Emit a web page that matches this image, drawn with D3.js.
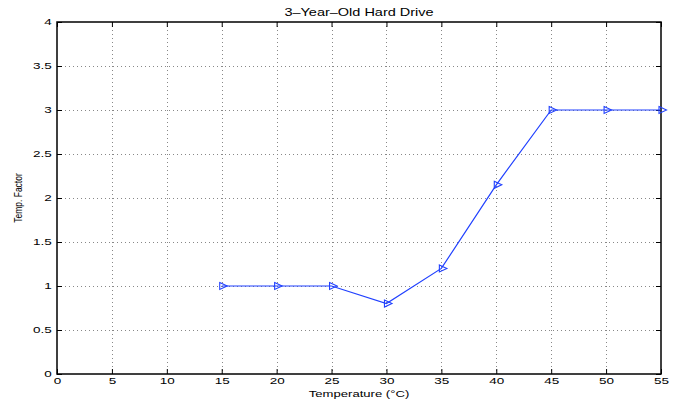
<!DOCTYPE html>
<html>
<head>
<meta charset="utf-8">
<script src="https://cdn.jsdelivr.net/npm/d3@7"></script>
<style>
  body { margin: 0; background: #fff; }
  svg { font-family: "Liberation Sans", Arial, sans-serif; }
</style>
</head>
<body>
<div id="chart"></div>
<script>
const temps = [15, 20, 25, 30, 35, 40, 45, 50, 55];
const factors = [1, 1, 1, 0.8, 1.2, 2.15, 3, 3, 3];
const xTicks = [0, 5, 10, 15, 20, 25, 30, 35, 40, 45, 50, 55];
const yTicks = [0, 0.5, 1, 1.5, 2, 2.5, 3, 3.5, 4];

const width = 681, height = 401;
const margin = { left: 57, right: 20, top: 22, bottom: 27 };
const stretch = 1.38;     // text in the picture is widened horizontally
const tickStretch = 1.5;

const svg = d3.select('#chart').append('svg')
  .attr('width', width)
  .attr('height', height);

const x = d3.scaleLinear().domain([0, 55]).range([margin.left, width - margin.right]);
const y = d3.scaleLinear().domain([0, 4]).range([height - margin.bottom, margin.top]);

// grid
const grid = svg.append('g')
  .attr('stroke', '#888')
  .attr('stroke-width', 1)
  .attr('stroke-dasharray', '1,3');

grid.selectAll('line.vx')
  .data(xTicks.slice(1, -1))
  .join('line')
  .attr('x1', d => Math.round(x(d)) + 0.5)
  .attr('x2', d => Math.round(x(d)) + 0.5)
  .attr('y1', y(4))
  .attr('y2', y(0));

grid.selectAll('line.hy')
  .data(yTicks.slice(1, -1))
  .join('line')
  .attr('y1', d => Math.round(y(d)) + 0.5)
  .attr('y2', d => Math.round(y(d)) + 0.5)
  .attr('x1', x(0))
  .attr('x2', x(55));

// axes (ticks inside, mirrored)
const tickLen = 5;
const styleAxis = g => {
  g.select('.domain').remove();
  g.selectAll('.tick line').attr('stroke', '#000');
  g.selectAll('.tick text')
    .attr('fill', '#000')
    .style('font-size', '9px')
    .attr('transform', `scale(${tickStretch},1)`);
};

svg.append('g')
  .attr('transform', `translate(0,${y(0)})`)
  .call(d3.axisBottom(x).tickValues(xTicks).tickSizeInner(-tickLen).tickSizeOuter(0).tickPadding(4))
  .call(styleAxis);

svg.append('g')
  .attr('transform', `translate(0,${y(4)})`)
  .call(d3.axisTop(x).tickValues(xTicks).tickSizeInner(-tickLen).tickSizeOuter(0).tickFormat(''))
  .call(styleAxis);

svg.append('g')
  .attr('transform', `translate(${x(0)},0)`)
  .call(d3.axisLeft(y).tickValues(yTicks).tickSizeInner(-tickLen).tickSizeOuter(0).tickPadding(3.5).tickFormat(d3.format('')))
  .call(styleAxis);

svg.append('g')
  .attr('transform', `translate(${x(55)},0)`)
  .call(d3.axisRight(y).tickValues(yTicks).tickSizeInner(-tickLen).tickSizeOuter(0).tickFormat(''))
  .call(styleAxis);

// frame
svg.append('rect')
  .attr('x', x(0))
  .attr('y', y(4))
  .attr('width', x(55) - x(0))
  .attr('height', y(0) - y(4))
  .attr('fill', 'none')
  .attr('stroke', '#000')
  .attr('stroke-width', 1.5);

// line
const pts = temps.map((t, i) => [t, factors[i]]);
svg.append('path')
  .datum(pts)
  .attr('fill', 'none')
  .attr('stroke', '#2040ff')
  .attr('stroke-width', 1.2)
  .attr('d', d3.line().x(d => x(d[0])).y(d => y(d[1])));

// right-pointing triangle markers
svg.append('g')
  .selectAll('path')
  .data(pts)
  .join('path')
  .attr('transform', d => `translate(${x(d[0])},${y(d[1])})`)
  .attr('d', 'M-2,-3.5L5.5,0L-2,3.5Z')
  .attr('fill', 'none')
  .attr('stroke', '#2040ff')
  .attr('stroke-width', 1.1);

// labels
const cx = (x(0) + x(55)) / 2;
svg.append('text')
  .attr('transform', `translate(${cx},16) scale(${stretch},1)`)
  .attr('text-anchor', 'middle')
  .style('font-size', '10.5px')
  .text('3\u2013Year\u2013Old Hard Drive');

svg.append('text')
  .attr('transform', `translate(${cx},397) scale(${stretch},1)`)
  .attr('text-anchor', 'middle')
  .style('font-size', '9.5px')
  .text('Temperature (\u00B0C)');

svg.append('text')
  .attr('transform', `translate(22,${(y(0) + y(4)) / 2}) scale(${stretch},1) rotate(-90)`)
  .attr('text-anchor', 'middle')
  .style('font-size', '8.5px')
  .text('Temp. Factor');
</script>
</body>
</html>
